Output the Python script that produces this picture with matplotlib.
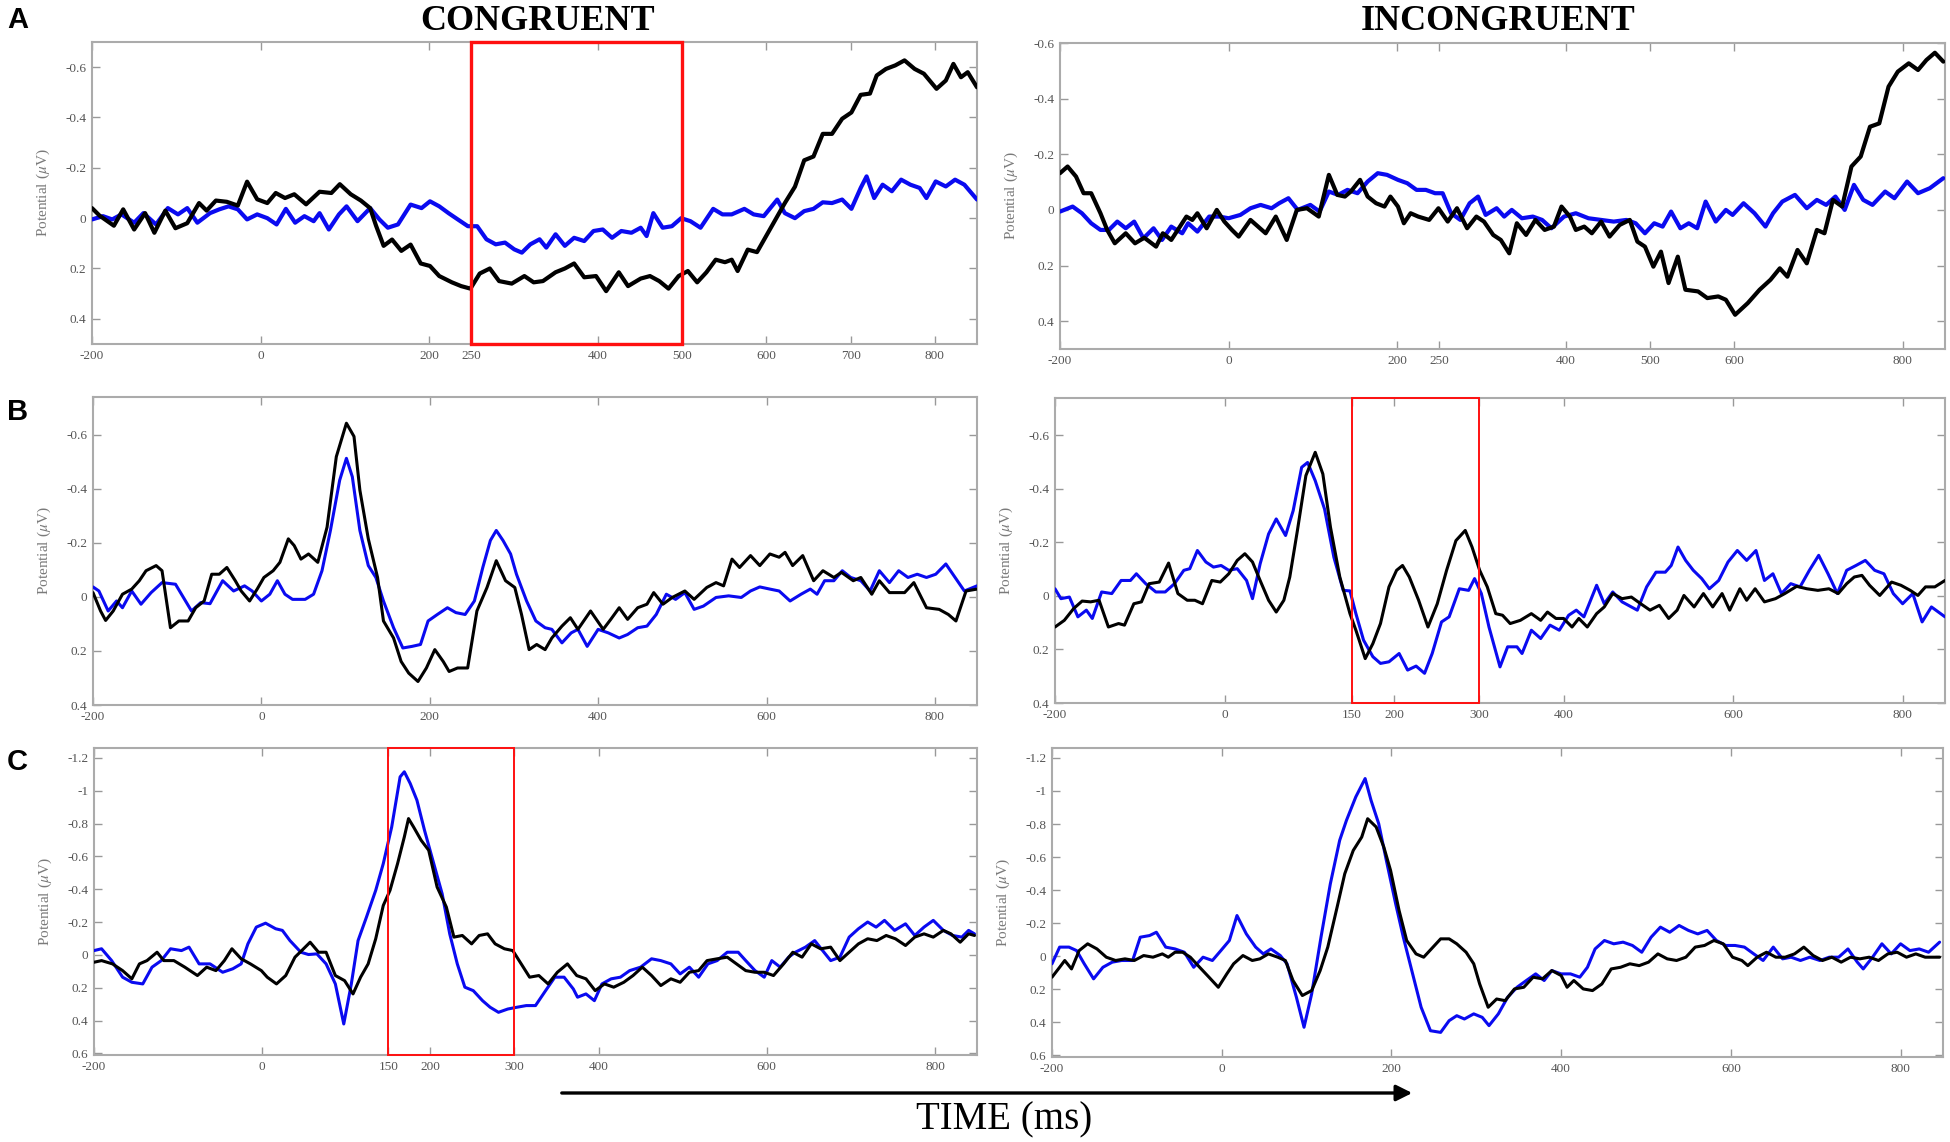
import matplotlib
matplotlib.use('Agg')
import matplotlib.pyplot as plt
from matplotlib.patches import Rectangle, FancyArrowPatch

plt.rcParams['font.family'] = ['Liberation Serif', 'DejaVu Serif']
plt.rcParams['mathtext.fontset'] = 'stix'
plt.rcParams['axes.unicode_minus'] = False

# ---------------- data (time in ms, potential in microvolts) ----------------
# Row A, congruent
t_AL_k = [-200,-191,-174,-163,-150,-137,-126,-113,-101,-87,-73,-64,-53,-40,-27,-16,-4,8,18,29,40,54,70,84,94,107,119,130,137,146,156,167,178,190,201,212,227,238,249,260,272,283,298,313,324,335,350,361,372,384,398,410,425,436,451,462,473,484,496,507,518,529,540,551,559,566,578,589,600,611,622,634,645,656,667,678,690,701,712,723,731,742,753,764,776,787,802,813,822,831,839,850]
v_AL_k = [-0.04,-0.01,0.03,-0.035,0.045,-0.02,0.058,-0.03,0.04,0.02,-0.06,-0.03,-0.07,-0.065,-0.05,-0.145,-0.075,-0.06,-0.1,-0.08,-0.095,-0.055,-0.105,-0.1,-0.135,-0.095,-0.07,-0.04,0.03,0.11,0.085,0.13,0.105,0.18,0.19,0.23,0.255,0.27,0.28,0.22,0.2,0.25,0.26,0.23,0.255,0.25,0.215,0.2,0.18,0.235,0.23,0.29,0.215,0.27,0.24,0.23,0.25,0.28,0.23,0.21,0.255,0.215,0.165,0.175,0.165,0.21,0.125,0.135,0.07,0.005,-0.06,-0.125,-0.23,-0.245,-0.335,-0.335,-0.395,-0.42,-0.49,-0.495,-0.567,-0.593,-0.607,-0.627,-0.593,-0.574,-0.514,-0.547,-0.613,-0.56,-0.58,-0.52]
t_AL_b = [-200,-187,-176,-165,-150,-139,-124,-110,-98,-87,-75,-60,-49,-38,-27,-16,-4,8,19,30,41,52,63,70,81,93,102,115,130,141,151,163,178,191,201,212,223,234,246,257,268,279,290,301,310,320,331,339,350,361,372,384,395,406,417,428,440,451,458,466,477,488,499,510,522,537,548,559,574,585,597,613,622,634,645,656,667,678,690,701,712,719,728,738,749,760,771,782,790,801,813,824,835,850]
v_AL_b = [0.005,-0.008,0.005,-0.015,0.018,-0.02,0.025,-0.04,-0.015,-0.04,0.018,-0.02,-0.035,-0.047,-0.035,0.005,-0.015,0.0,0.025,-0.037,0.018,-0.008,0.012,-0.02,0.045,-0.015,-0.047,0.012,-0.04,0.005,0.038,0.025,-0.054,-0.04,-0.067,-0.047,-0.02,0.005,0.032,0.032,0.084,0.104,0.097,0.124,0.137,0.104,0.084,0.117,0.064,0.11,0.078,0.091,0.051,0.045,0.078,0.051,0.058,0.038,0.071,-0.02,0.038,0.032,0.0,0.012,0.038,-0.037,-0.015,-0.015,-0.037,-0.015,-0.008,-0.074,-0.02,0.0,-0.028,-0.037,-0.063,-0.06,-0.074,-0.037,-0.12,-0.166,-0.08,-0.133,-0.107,-0.153,-0.133,-0.12,-0.08,-0.146,-0.126,-0.153,-0.133,-0.074]

# Row A, incongruent
t_AR_k = [-200,-191,-181,-172,-163,-152,-144,-135,-122,-111,-100,-86,-78,-68,-59,-50,-43,-37,-26,-14,-5,4,12,26,44,56,69,81,93,107,119,129,138,145,156,165,175,185,192,201,208,216,225,238,249,260,271,283,294,303,314,323,333,342,353,364,375,386,395,405,412,422,431,442,452,464,476,485,494,504,513,522,533,542,557,568,581,590,601,616,630,643,654,663,675,686,698,707,717,728,739,750,761,772,783,794,807,818,828,838,848]
v_AR_k = [-0.132,-0.156,-0.12,-0.06,-0.06,0.012,0.072,0.12,0.084,0.12,0.1,0.132,0.084,0.108,0.066,0.024,0.036,0.012,0.066,0.0,0.042,0.072,0.096,0.036,0.084,0.024,0.108,0.0,-0.006,0.024,-0.126,-0.054,-0.048,-0.066,-0.108,-0.048,-0.024,-0.012,-0.048,-0.012,0.048,0.012,0.024,0.036,-0.006,0.042,-0.006,0.066,0.024,0.042,0.09,0.108,0.156,0.048,0.09,0.036,0.072,0.06,-0.012,0.024,0.072,0.06,0.084,0.042,0.096,0.054,0.036,0.114,0.132,0.204,0.15,0.263,0.168,0.287,0.293,0.317,0.311,0.323,0.377,0.335,0.287,0.251,0.21,0.24,0.144,0.192,0.072,0.084,-0.036,-0.012,-0.156,-0.192,-0.299,-0.311,-0.443,-0.497,-0.527,-0.503,-0.539,-0.565,-0.533]
t_AR_b = [-200,-185,-174,-163,-152,-142,-132,-122,-112,-101,-89,-79,-68,-55,-48,-37,-23,-11,0,14,26,38,51,60,71,82,97,108,119,130,141,153,165,177,188,201,212,223,234,245,254,264,275,286,296,305,318,327,336,348,361,372,383,398,412,427,442,457,472,483,494,505,515,525,536,546,556,566,578,590,598,611,624,637,646,657,672,686,698,709,720,731,742,753,764,779,790,805,818,832,848]
v_AR_b = [0.006,-0.012,0.012,0.048,0.072,0.072,0.042,0.066,0.042,0.102,0.066,0.108,0.06,0.084,0.048,0.078,0.024,0.024,0.03,0.018,-0.006,-0.018,-0.006,-0.024,-0.042,0.0,-0.018,0.006,-0.066,-0.054,-0.072,-0.06,-0.102,-0.132,-0.126,-0.108,-0.096,-0.072,-0.072,-0.06,-0.06,0.012,0.036,-0.024,-0.048,0.018,-0.006,0.024,0.0,0.03,0.024,0.036,0.066,0.024,0.012,0.03,0.036,0.042,0.036,0.048,0.084,0.048,0.06,0.006,0.066,0.048,0.066,-0.03,0.042,0.0,0.018,-0.024,0.012,0.06,0.012,-0.03,-0.054,-0.006,-0.036,-0.018,-0.048,0.0,-0.09,-0.036,-0.018,-0.066,-0.042,-0.102,-0.06,-0.078,-0.114]

# Row B, congruent
t_BL_k = [-200,-191,-185,-176,-165,-154,-145,-137,-125,-118,-108,-98,-87,-78,-68,-59,-50,-41,-31,-24,-14,-5,3,14,22,32,39,47,56,67,78,89,101,110,117,127,138,145,157,166,175,186,196,206,216,223,233,245,256,268,279,290,301,309,318,327,337,345,357,367,376,391,406,415,425,435,447,458,466,477,488,503,514,529,540,549,559,568,581,592,604,615,622,631,643,656,667,680,689,703,712,725,734,746,764,775,790,805,816,825,837,850]
v_BL_k = [-0.016,0.052,0.087,0.052,-0.01,-0.029,-0.06,-0.097,-0.116,-0.097,0.114,0.089,0.089,0.04,0.015,-0.084,-0.084,-0.109,-0.06,-0.022,0.015,-0.029,-0.072,-0.097,-0.128,-0.215,-0.19,-0.14,-0.159,-0.128,-0.258,-0.519,-0.643,-0.594,-0.395,-0.215,-0.072,0.089,0.152,0.239,0.282,0.313,0.263,0.195,0.239,0.276,0.263,0.263,0.052,-0.035,-0.134,-0.06,-0.035,0.065,0.195,0.176,0.195,0.152,0.108,0.077,0.12,0.052,0.12,0.083,0.04,0.083,0.04,0.027,-0.016,0.027,0.002,-0.022,0.009,-0.035,-0.053,-0.041,-0.14,-0.109,-0.153,-0.116,-0.159,-0.147,-0.165,-0.116,-0.153,-0.06,-0.097,-0.072,-0.091,-0.06,-0.072,-0.01,-0.06,-0.016,-0.016,-0.053,0.04,0.046,0.065,0.089,-0.022,-0.029]
t_BL_b = [-200,-193,-182,-172,-165,-154,-143,-131,-118,-102,-83,-72,-61,-46,-33,-20,-11,0,10,19,28,37,52,62,72,82,93,101,108,117,127,136,145,157,168,179,189,198,209,221,231,242,253,263,272,279,287,296,303,315,326,337,345,357,368,376,387,400,412,425,435,447,458,469,481,492,503,514,525,540,555,570,581,592,604,615,628,641,652,660,669,680,690,700,712,723,734,746,757,768,779,790,801,813,824,835,850]
v_BL_b = [-0.037,-0.022,0.052,0.015,0.04,-0.022,0.027,-0.016,-0.053,-0.047,0.052,0.021,0.025,-0.06,-0.022,-0.041,-0.022,0.015,-0.01,-0.06,-0.01,0.009,0.009,-0.01,-0.097,-0.246,-0.432,-0.513,-0.445,-0.246,-0.116,-0.072,0.015,0.114,0.189,0.183,0.176,0.089,0.065,0.04,0.058,0.065,0.015,-0.109,-0.209,-0.246,-0.209,-0.159,-0.084,0.015,0.089,0.114,0.12,0.17,0.133,0.12,0.183,0.12,0.133,0.152,0.139,0.114,0.108,0.065,-0.01,0.009,-0.016,0.046,0.034,0.002,-0.004,0.002,-0.022,-0.037,-0.029,-0.022,0.015,-0.01,-0.029,-0.01,-0.06,-0.06,-0.097,-0.072,-0.06,-0.022,-0.097,-0.053,-0.097,-0.072,-0.084,-0.072,-0.084,-0.122,-0.072,-0.022,-0.041]

# Row B, incongruent
t_BR_k = [-200,-189,-178,-168,-158,-148,-137,-125,-118,-107,-98,-89,-77,-66,-55,-44,-35,-26,-15,-5,5,15,24,33,42,52,61,70,77,86,96,107,116,125,136,148,155,166,175,184,194,203,210,218,229,240,251,262,273,284,292,301,310,320,328,337,349,362,373,381,391,400,410,418,428,439,448,458,469,480,491,502,513,524,534,542,554,565,576,587,596,608,616,626,637,650,661,675,687,700,713,724,734,743,752,761,773,787,798,809,818,827,838,850]
v_BR_k = [0.116,0.091,0.047,0.019,0.022,0.016,0.116,0.103,0.109,0.029,0.022,-0.046,-0.052,-0.123,-0.009,0.016,0.016,0.029,-0.058,-0.052,-0.083,-0.133,-0.158,-0.127,-0.058,0.016,0.06,0.016,-0.071,-0.245,-0.45,-0.537,-0.456,-0.257,-0.071,0.066,0.128,0.234,0.178,0.103,-0.034,-0.096,-0.114,-0.071,0.016,0.116,0.029,-0.096,-0.207,-0.245,-0.183,-0.096,-0.034,0.066,0.072,0.103,0.091,0.066,0.091,0.06,0.084,0.084,0.116,0.084,0.116,0.066,0.041,-0.009,0.01,0.004,0.029,0.053,0.035,0.084,0.053,-0.002,0.041,-0.009,0.041,-0.009,0.053,-0.027,0.016,-0.027,0.022,0.01,-0.009,-0.036,-0.027,-0.021,-0.027,-0.009,-0.046,-0.071,-0.077,-0.04,-0.002,-0.052,-0.04,-0.021,-0.002,-0.034,-0.034,-0.058]
t_BR_b = [-200,-193,-183,-173,-163,-156,-145,-133,-122,-111,-104,-93,-81,-70,-59,-48,-41,-32,-22,-13,-4,5,15,26,33,42,52,61,72,81,91,98,107,118,129,140,148,155,164,175,184,194,206,216,226,236,245,256,265,277,288,295,303,312,325,334,345,351,362,373,384,395,406,415,424,439,448,458,469,480,487,498,509,520,527,535,544,553,563,572,583,594,605,616,627,637,647,657,668,679,690,701,712,723,734,745,756,767,778,789,800,812,823,834,850]
v_BR_b = [-0.027,0.01,0.004,0.078,0.053,0.084,-0.015,-0.009,-0.058,-0.058,-0.083,-0.046,-0.015,-0.015,-0.046,-0.096,-0.102,-0.17,-0.127,-0.108,-0.114,-0.096,-0.102,-0.058,0.01,-0.12,-0.232,-0.288,-0.226,-0.319,-0.481,-0.499,-0.431,-0.325,-0.145,-0.021,-0.019,0.066,0.165,0.227,0.252,0.246,0.215,0.277,0.262,0.289,0.215,0.097,0.078,-0.027,-0.021,-0.065,-0.009,0.116,0.265,0.19,0.19,0.215,0.128,0.159,0.109,0.128,0.072,0.053,0.078,-0.04,0.029,-0.015,0.022,0.041,0.053,-0.034,-0.089,-0.089,-0.114,-0.183,-0.133,-0.096,-0.065,-0.027,-0.058,-0.127,-0.17,-0.133,-0.17,-0.058,-0.083,-0.009,-0.046,-0.034,-0.096,-0.152,-0.083,-0.009,-0.096,-0.114,-0.133,-0.096,-0.083,-0.009,0.029,-0.009,0.097,0.041,0.078]

# Row C, congruent
t_CL_k = [-200,-191,-178,-166,-155,-146,-137,-125,-117,-105,-92,-77,-66,-55,-45,-36,-25,-14,-1,6,17,28,39,47,57,67,76,87,98,108,117,126,135,144,152,161,169,174,180,189,198,208,219,228,238,249,258,268,277,288,298,308,318,329,340,351,363,374,385,396,407,418,430,441,452,463,474,486,497,508,519,529,541,553,564,575,586,597,608,620,631,642,653,664,676,687,698,709,720,731,742,753,765,776,787,798,810,819,830,840,847]
v_CL_k = [0.045,0.035,0.055,0.096,0.146,0.055,0.035,-0.016,0.035,0.035,0.075,0.126,0.075,0.096,0.035,-0.037,0.024,0.055,0.096,0.136,0.177,0.126,0.014,-0.026,-0.077,-0.016,-0.016,0.126,0.157,0.238,0.136,0.055,-0.098,-0.301,-0.393,-0.556,-0.718,-0.83,-0.779,-0.698,-0.637,-0.413,-0.291,-0.108,-0.118,-0.067,-0.118,-0.128,-0.067,-0.037,-0.026,0.055,0.136,0.126,0.177,0.106,0.055,0.126,0.146,0.218,0.177,0.197,0.167,0.126,0.075,0.126,0.187,0.146,0.167,0.106,0.096,0.035,0.024,0.014,0.055,0.096,0.106,0.106,0.126,0.055,-0.016,0.014,-0.067,-0.037,-0.047,0.035,-0.016,-0.067,-0.098,-0.087,-0.118,-0.098,-0.057,-0.108,-0.128,-0.108,-0.149,-0.128,-0.077,-0.128,-0.118]
t_CL_b = [-200,-191,-179,-166,-155,-142,-131,-120,-109,-96,-87,-75,-62,-47,-35,-25,-17,-7,4,16,24,33,46,55,65,76,87,97,106,114,124,135,144,154,164,169,176,184,193,204,214,223,232,241,251,262,271,281,292,303,314,325,337,348,359,370,375,385,395,404,415,426,437,450,463,474,486,497,508,519,530,541,553,566,575,586,597,606,616,626,634,646,657,668,676,687,698,709,720,730,740,752,765,776,787,798,810,821,832,840,847]
v_CL_b = [-0.026,-0.037,0.035,0.136,0.167,0.177,0.075,0.035,-0.037,-0.026,-0.047,0.055,0.055,0.106,0.085,0.055,-0.067,-0.169,-0.193,-0.159,-0.149,-0.087,-0.016,-0.002,-0.006,0.055,0.177,0.421,0.177,-0.087,-0.23,-0.393,-0.556,-0.779,-1.084,-1.115,-1.044,-0.942,-0.759,-0.556,-0.372,-0.128,0.055,0.197,0.218,0.279,0.319,0.35,0.33,0.319,0.309,0.309,0.218,0.136,0.136,0.208,0.258,0.238,0.279,0.177,0.146,0.136,0.096,0.075,0.024,0.035,0.055,0.116,0.075,0.136,0.055,0.035,-0.016,-0.016,0.035,0.096,0.136,0.035,0.075,0.014,-0.016,-0.047,-0.087,-0.016,0.035,0.014,-0.108,-0.159,-0.2,-0.169,-0.21,-0.149,-0.189,-0.118,-0.169,-0.21,-0.149,-0.118,-0.108,-0.149,-0.128]

# Row C, incongruent
t_CR_k = [-200,-191,-185,-177,-168,-158,-147,-136,-125,-114,-103,-92,-81,-70,-63,-55,-46,-37,-26,-15,-4,6,14,25,36,45,55,66,75,84,95,106,116,125,136,145,155,165,172,182,191,199,209,218,229,238,249,258,268,277,288,297,304,314,324,334,345,356,367,378,389,400,407,415,426,437,448,459,470,481,492,503,514,525,536,547,558,569,580,591,602,613,620,631,642,653,664,675,686,697,708,719,730,741,752,763,774,785,796,807,818,829,846]
v_CR_k = [0.127,0.067,0.026,0.077,-0.034,-0.075,-0.044,0.006,0.026,0.016,0.026,-0.004,0.006,-0.014,0.006,-0.024,-0.024,0.006,0.067,0.127,0.188,0.107,0.046,-0.004,0.026,0.016,-0.014,0.006,0.026,0.147,0.238,0.208,0.087,-0.055,-0.297,-0.499,-0.64,-0.721,-0.832,-0.782,-0.661,-0.519,-0.277,-0.095,-0.014,0.006,-0.055,-0.105,-0.105,-0.075,-0.024,0.046,0.168,0.309,0.259,0.269,0.198,0.188,0.127,0.137,0.087,0.117,0.188,0.147,0.198,0.208,0.168,0.077,0.067,0.046,0.057,0.036,-0.014,0.016,0.026,0.006,-0.055,-0.065,-0.095,-0.075,0.006,0.026,0.057,0.006,-0.024,0.006,0.006,-0.014,-0.055,-0.004,0.026,0.006,0.036,0.006,0.016,0.006,0.026,-0.014,-0.024,0.006,-0.014,0.006,0.006]
t_CR_b = [-200,-191,-180,-171,-162,-151,-140,-129,-118,-105,-96,-85,-77,-66,-55,-44,-33,-22,-11,-1,9,18,29,40,49,58,69,77,88,97,106,117,128,139,147,158,169,176,185,194,205,214,224,235,246,258,268,277,286,297,307,315,326,337,348,359,370,380,389,400,411,422,431,440,451,462,473,484,495,506,517,528,539,550,561,572,583,594,605,616,627,638,650,661,671,682,693,705,716,727,738,749,756,767,778,789,800,811,822,833,846]
v_CR_b = [0.046,-0.055,-0.055,-0.034,0.046,0.137,0.067,0.036,0.026,0.026,-0.115,-0.125,-0.145,-0.055,-0.044,-0.024,0.067,0.006,0.026,-0.034,-0.095,-0.246,-0.135,-0.055,-0.014,-0.044,-0.004,0.046,0.248,0.43,0.228,-0.115,-0.438,-0.701,-0.822,-0.964,-1.075,-0.943,-0.802,-0.58,-0.317,-0.115,0.087,0.309,0.451,0.461,0.39,0.36,0.38,0.349,0.37,0.42,0.349,0.248,0.188,0.147,0.107,0.147,0.087,0.107,0.107,0.127,0.067,-0.044,-0.095,-0.075,-0.085,-0.065,-0.024,-0.115,-0.176,-0.145,-0.186,-0.156,-0.135,-0.156,-0.095,-0.065,-0.065,-0.055,-0.014,0.026,-0.055,0.016,0.006,0.026,0.006,0.026,0.006,0.006,-0.044,0.036,0.077,0.006,-0.075,-0.014,-0.075,-0.034,-0.044,-0.024,-0.085]

# ticks, labels, highlighted windows
xt_AL = [-200, 0, 200, 250, 400, 500, 600, 700, 800]
xt_AR = [-200, 0, 200, 250, 400, 500, 600, 800]
xt_BL = [-200, 0, 200, 400, 600, 800]
xt_BR = [-200, 0, 150, 200, 300, 400, 600, 800]
xt_CL = [-200, 0, 150, 200, 300, 400, 600, 800]
xt_CR = [-200, 0, 200, 400, 600, 800]
yt_AB = [-0.6, -0.4, -0.2, 0, 0.2, 0.4]
yl_AB = ['-0.6', '-0.4', '-0.2', '0', '0.2', '0.4']
yt_C = [-1.2, -1, -0.8, -0.6, -0.4, -0.2, 0, 0.2, 0.4, 0.6]
yl_C = ['-1.2', '-1', '-0.8', '-0.6', '-0.4', '-0.2', '0', '0.2', '0.4', '0.6']
win_AL = (250, 500)
win_BR = (150, 300)
win_CL = (150, 300)
titles = ['CONGRUENT', 'INCONGRUENT']
row_letters = ['A', 'B', 'C']
xlabel_text = 'TIME (ms)'
ylabel_text = r'Potential ($\mu$V)'

# ---------------- figure ----------------
W, H = 1950, 1142
fig = plt.figure(figsize=(W / 100, H / 100), dpi=100)
fig.patch.set_facecolor('white')


def add_ax(l, t, r, b):
    return fig.add_axes([l / W, 1 - b / H, (r - l) / W, (b - t) / H])


BLUE = '#0a0af0'
panels = [
    # (box, t_k, v_k, t_b, v_b, xticks, yticks, ylabels, ylim, lw, window, win_lw)
    ((92, 42, 977, 344), t_AL_k, v_AL_k, t_AL_b, v_AL_b, xt_AL, yt_AB, yl_AB, (0.5, -0.7), 3.0, win_AL, 2.4),
    ((1060, 43, 1945, 349), t_AR_k, v_AR_k, t_AR_b, v_AR_b, xt_AR, yt_AB, yl_AB, (0.5, -0.6), 3.0, None, 0),
    ((93, 397, 977, 705), t_BL_k, v_BL_k, t_BL_b, v_BL_b, xt_BL, yt_AB, yl_AB, (0.4, -0.74), 2.2, None, 0),
    ((1055, 398, 1945, 703), t_BR_k, v_BR_k, t_BR_b, v_BR_b, xt_BR, yt_AB, yl_AB, (0.4, -0.74), 2.2, win_BR, 1.4),
    ((94, 748, 977, 1055), t_CL_k, v_CL_k, t_CL_b, v_CL_b, xt_CL, yt_C, yl_C, (0.61, -1.26), 2.2, win_CL, 1.4),
    ((1052, 748, 1943, 1057), t_CR_k, v_CR_k, t_CR_b, v_CR_b, xt_CR, yt_C, yl_C, (0.61, -1.26), 2.2, None, 0),
]

for box, tk, vk, tb, vb, xt, yt, yl, ylim, lw, win, wlw in panels:
    ax = add_ax(*box)
    ax.plot(tb, vb, color=BLUE, lw=lw, solid_joinstyle='round', solid_capstyle='round', zorder=3)
    ax.plot(tk, vk, color='black', lw=lw, solid_joinstyle='round', solid_capstyle='round', zorder=4)
    ax.set_xlim(-200, 850)
    ax.set_ylim(*ylim)
    ax.set_xticks(xt)
    ax.set_xticklabels([str(x) for x in xt])
    ax.set_yticks(yt)
    ax.set_yticklabels(yl)
    for s in ax.spines.values():
        s.set_color('#ababab')
        s.set_linewidth(1.5)
    ax.tick_params(direction='in', length=6, width=1, color='#999999', top=True, right=True,
                   labelsize=9.5, labelcolor='#555555', pad=4)
    ax.set_ylabel(ylabel_text, fontsize=11, color='#7a7a7a')
    axw = box[2] - box[0]
    ax.yaxis.set_label_coords(-40 / axw, 0.5)
    if win is not None:
        ax.add_patch(Rectangle((win[0], 0), win[1] - win[0], 1, transform=ax.get_xaxis_transform(),
                               fill=False, edgecolor='#ff1010', lw=wlw, clip_on=False, zorder=6))

# column titles
fig.text(538 / W, 1 - 21 / H, titles[0], fontsize=26, fontweight='bold', ha='center', va='center')
fig.text(1498 / W, 1 - 21 / H, titles[1], fontsize=26, fontweight='bold', ha='center', va='center')

# row letters
for letter, yc in zip(row_letters, [20, 412, 762]):
    fig.text(7 / W, 1 - yc / H, letter, fontsize=21, fontweight='bold', family='Liberation Sans',
             ha='left', va='center')

# time arrow
fig.add_artist(FancyArrowPatch((559 / W, 1 - 1093 / H), (1415 / W, 1 - 1093 / H),
                               transform=fig.transFigure, arrowstyle='-|>', mutation_scale=24,
                               lw=2.4, color='black'))
fig.text(1004 / W, 1 - 1120 / H, xlabel_text, fontsize=28, ha='center', va='center')

fig.savefig('out.png', dpi=100, facecolor='white')
